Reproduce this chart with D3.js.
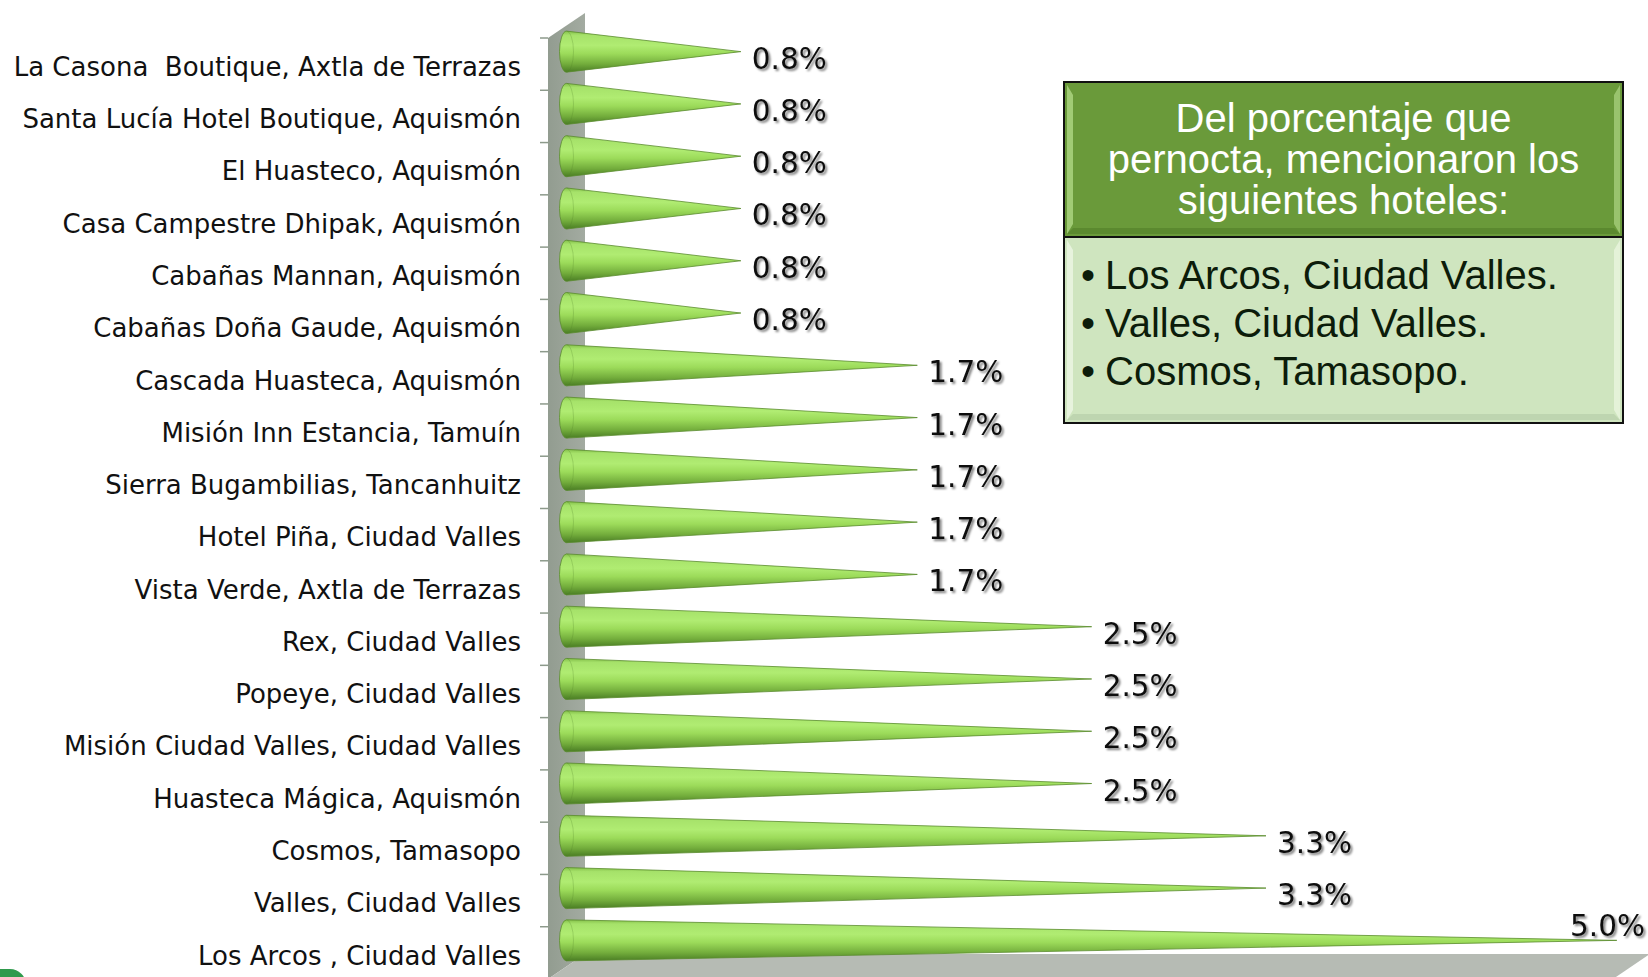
<!DOCTYPE html>
<html>
<head>
<meta charset="utf-8">
<script src="https://cdn.jsdelivr.net/npm/d3@7"></script>
<style>
  body { margin: 0; background: #fff; }
  text { white-space: pre; }
</style>
</head>
<body>
<div class="canvas"></div>
<script>
const dims = { width: 1648, height: 977 }

// hotels, top to bottom
const categories = [
    'La Casona  Boutique, Axtla de Terrazas',
    'Santa Lucía Hotel Boutique, Aquismón',
    'El Huasteco, Aquismón',
    'Casa Campestre Dhipak, Aquismón',
    'Cabañas Mannan, Aquismón',
    'Cabañas Doña Gaude, Aquismón',
    'Cascada Huasteca, Aquismón',
    'Misión Inn Estancia, Tamuín',
    'Sierra Bugambilias, Tancanhuitz',
    'Hotel Piña, Ciudad Valles',
    'Vista Verde, Axtla de Terrazas',
    'Rex, Ciudad Valles',
    'Popeye, Ciudad Valles',
    'Misión Ciudad Valles, Ciudad Valles',
    'Huasteca Mágica, Aquismón',
    'Cosmos, Tamasopo',
    'Valles, Ciudad Valles',
    'Los Arcos , Ciudad Valles'
]

// percent
const values = [0.83, 0.83, 0.83, 0.83, 0.83, 0.83, 1.67, 1.67, 1.67, 1.67, 1.67, 2.5, 2.5, 2.5, 2.5, 3.33, 3.33, 5.0]

const xMax = 5.07

const headerLines = ['Del porcentaje que', 'pernocta, mencionaron los', 'siguientes hoteles:']
const bulletItems = ['Los Arcos, Ciudad Valles.', 'Valles, Ciudad Valles.', 'Cosmos, Tamasopo.']

const plot = { left: 548, right: 1613, top: 38, bottom: 979 }
const depth = { dx: 37, dy: -25 }

const svg = d3.select('.canvas')
    .append('svg')
    .attr('width', dims.width)
    .attr('height', dims.height)

const defs = svg.append('defs')

const coneGrad = defs.append('linearGradient')
    .attr('id', 'cone')
    .attr('x1', 0).attr('y1', 0).attr('x2', 0).attr('y2', 1)
;[[0, '#84c04a'], [0.1, '#a6e26a'], [0.35, '#b0ec72'], [0.55, '#9cdb5a'], [0.8, '#73ad3c'], [1, '#4a7d24']]
    .forEach(s => coneGrad.append('stop').attr('offset', s[0]).attr('stop-color', s[1]))

const wallGrad = defs.append('linearGradient')
    .attr('id', 'wall')
    .attr('x1', 0).attr('y1', 0).attr('x2', 1).attr('y2', 0)
wallGrad.append('stop').attr('offset', 0).attr('stop-color', '#929c90')
wallGrad.append('stop').attr('offset', 1).attr('stop-color', '#a3aba1')

const shadow = defs.append('filter')
    .attr('id', 'shadow')
    .attr('x', '-20%').attr('y', '-30%').attr('width', '150%').attr('height', '170%')
shadow.append('feDropShadow')
    .attr('dx', 2).attr('dy', 2)
    .attr('stdDeviation', 1.3)
    .attr('flood-color', '#000')
    .attr('flood-opacity', 0.5)

// scales
const x = d3.scaleLinear()
    .domain([0, xMax])
    .range([plot.left, plot.right])

const y = d3.scaleBand()
    .domain(categories)
    .range([plot.top, plot.bottom])
    .padding(0)

// wall and floor
svg.append('polygon')
    .attr('points', [
        [plot.left, plot.top],
        [plot.left + depth.dx, plot.top + depth.dy],
        [plot.left + depth.dx, plot.bottom + depth.dy],
        [plot.left, plot.bottom]
    ].join(' '))
    .attr('fill', 'url(#wall)')

svg.append('polygon')
    .attr('points', [
        [plot.left, plot.bottom],
        [plot.left + depth.dx, plot.bottom + depth.dy],
        [plot.right + depth.dx, plot.bottom + depth.dy],
        [plot.right, plot.bottom]
    ].join(' '))
    .attr('fill', '#b6bbb4')

// tick marks on band edges
const edges = categories.map(c => y(c)).concat([plot.bottom])
svg.append('g')
    .selectAll('line')
    .data(edges)
    .enter()
    .append('line')
        .attr('x1', plot.left - 8)
        .attr('x2', plot.left)
        .attr('y1', d => d)
        .attr('y2', d => d)
        .attr('stroke', '#8d9a8b')
        .attr('stroke-width', 1.5)

// category axis
const yAxis = d3.axisLeft(y)
    .tickSize(0)
    .tickPadding(27)

const axisG = svg.append('g')
    .attr('transform', `translate(${plot.left}, 0)`)
    .call(yAxis)
axisG.select('.domain').remove()
axisG.selectAll('text')
    .attr('font-family', 'DejaVu Sans')
    .attr('font-size', 26)
    .attr('fill', '#111')
    .attr('dy', '0.45em')

// cones sit at half depth
const half = { dx: depth.dx / 2, dy: depth.dy / 2 }
const coneH = y.bandwidth() * 0.785
const rx = 7

const cones = svg.append('g')
    .selectAll('g')
    .data(categories.map((c, i) => ({ name: c, value: values[i] })))
    .enter()
    .append('g')

cones.append('path')
    .attr('d', d => {
        const cy = y(d.name) + y.bandwidth() / 2 + half.dy
        const bx = x(0) + half.dx
        const tx = x(d.value) + half.dx
        const r = coneH / 2
        return `M${tx},${cy} L${bx},${cy - r} A${rx},${r} 0 0 0 ${bx},${cy + r} Z`
    })
    .attr('fill', 'url(#cone)')
    .attr('stroke', '#5b8c2f')
    .attr('stroke-width', 0.8)

cones.append('path')
    .attr('d', d => {
        const cy = y(d.name) + y.bandwidth() / 2 + half.dy
        const bx = x(0) + half.dx
        const r = coneH / 2
        return `M${bx},${cy - r} A${rx},${r} 0 0 1 ${bx},${cy + r}`
    })
    .attr('fill', 'none')
    .attr('stroke', '#4f7f27')
    .attr('stroke-opacity', 0.25)
    .attr('stroke-width', 1)

// value labels
const labels = cones.append('text')
    .attr('font-family', 'DejaVu Sans')
    .attr('font-size', 29.5)
    .attr('fill', '#111')
    .attr('filter', 'url(#shadow)')
    .attr('dominant-baseline', 'central')
    .text(d => d3.format('.1f')(d.value) + '%')

labels.each(function(d){
    const cy = y(d.name) + y.bandwidth() / 2 + half.dy
    const tx = x(d.value) + half.dx
    const w = this.getComputedTextLength()
    const el = d3.select(this)
    if (tx + 11 + w > dims.width - 3) {
        // not enough room on the right, put it above the tip
        el.attr('text-anchor', 'end').attr('x', dims.width - 3).attr('y', cy - 14)
    } else {
        el.attr('x', tx + 11).attr('y', cy + 7)
    }
})

// note box
const box = { x: 1064, y: 82, w: 559, h: 341, split: 155 }
const note = svg.append('g')

note.append('rect')
    .attr('x', box.x).attr('y', box.y)
    .attr('width', box.w).attr('height', box.split)
    .attr('fill', '#6a9a3a')
note.append('rect')
    .attr('x', box.x).attr('y', box.y + box.split)
    .attr('width', box.w).attr('height', box.h - box.split)
    .attr('fill', '#cfe5bf')

// soft bevel strips
const bevel = (x0, y0, w, h, light, dark) => {
    const b = 9
    note.append('polygon')
        .attr('points', [[x0 + 3, y0 + 3], [x0 + b, y0 + b + 4], [x0 + b, y0 + h - b - 4], [x0 + 3, y0 + h - 3]].join(' '))
        .attr('fill', light).attr('opacity', 0.7)
    note.append('polygon')
        .attr('points', [[x0 + w - 3, y0 + 3], [x0 + w - b, y0 + b + 4], [x0 + w - b, y0 + h - b - 4], [x0 + w - 3, y0 + h - 3]].join(' '))
        .attr('fill', light).attr('opacity', 0.6)
    note.append('polygon')
        .attr('points', [[x0 + 3, y0 + h - 3], [x0 + b, y0 + h - b], [x0 + w - b, y0 + h - b], [x0 + w - 3, y0 + h - 3]].join(' '))
        .attr('fill', dark).attr('opacity', 0.35)
}
bevel(box.x, box.y, box.w, box.split, '#b9df8f', '#3f6a1c')
bevel(box.x, box.y + box.split, box.w, box.h - box.split, '#f1faea', '#9fb894')

note.append('line')
    .attr('x1', box.x).attr('x2', box.x + box.w)
    .attr('y1', box.y + box.split).attr('y2', box.y + box.split)
    .attr('stroke', '#111').attr('stroke-width', 2)
note.append('rect')
    .attr('x', box.x).attr('y', box.y)
    .attr('width', box.w).attr('height', box.h)
    .attr('fill', 'none')
    .attr('stroke', '#111').attr('stroke-width', 2)

note.selectAll('.head')
    .data(headerLines)
    .enter()
    .append('text')
        .attr('class', 'head')
        .attr('x', box.x + box.w / 2)
        .attr('y', (d, i) => 118 + i * 41)
        .attr('text-anchor', 'middle')
        .attr('dominant-baseline', 'central')
        .attr('font-family', 'Liberation Sans')
        .attr('font-size', 40)
        .attr('fill', '#fff')
        .text(d => d)

const items = note.selectAll('.item')
    .data(bulletItems)
    .enter()
    .append('g')
        .attr('class', 'item')
        .attr('transform', (d, i) => `translate(0, ${275 + i * 48})`)
items.append('text')
    .attr('x', 1081)
    .attr('dominant-baseline', 'central')
    .attr('font-family', 'Liberation Sans')
    .attr('font-size', 40)
    .attr('fill', '#0c1c0a')
    .text('•')
items.append('text')
    .attr('x', 1105)
    .attr('dominant-baseline', 'central')
    .attr('font-family', 'Liberation Sans')
    .attr('font-size', 40)
    .attr('fill', '#0c1c0a')
    .text(d => d)

// slide decoration peeking in at bottom left
svg.append('rect')
    .attr('x', -30).attr('y', 969)
    .attr('width', 56).attr('height', 40)
    .attr('rx', 16)
    .attr('fill', '#2f9a4c')
</script>
</body>
</html>
